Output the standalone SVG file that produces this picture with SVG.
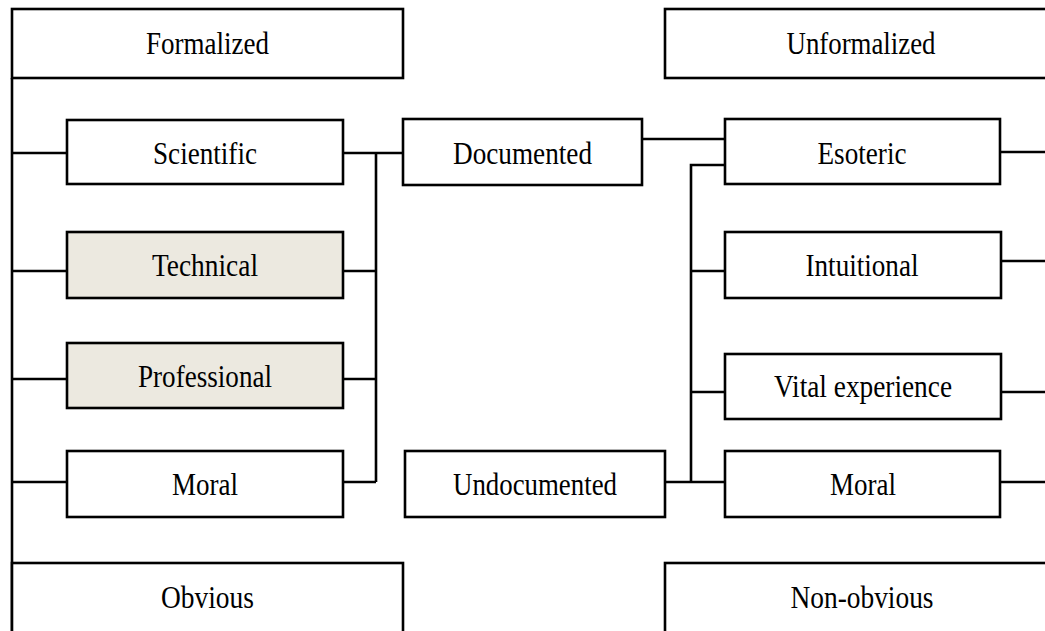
<svg xmlns="http://www.w3.org/2000/svg" width="1045" height="631" viewBox="0 0 1045 631">
<style>
.box{fill:#ffffff;stroke:#000;stroke-width:2.6}
.shade{fill:#ECE9E0;stroke:#000;stroke-width:2.6}
.lbl{font-family:"Liberation Serif","Times New Roman",serif;font-size:31px;fill:#000;text-anchor:middle}
.c{fill:none;stroke:#000;stroke-width:2.6}
</style>
<rect width="1045" height="631" fill="#ffffff"/>
<g id="connectors">
<path class="c" d="M12,78 V631"/>
<path class="c" d="M12,153 H67 M12,271 H67 M12,379 H67 M12,482 H67"/>
<path class="c" d="M343,153 H403 M343,271 H376 M343,379 H376 M343,482 H376 M376,153 V482"/>
<path class="c" d="M642,139 H725"/>
<path class="c" d="M727,165 H691 V482 M691,271 H725 M691,392 H725 M665,482 H725"/>
<path class="c" d="M1000,152 H1045 M1001,261 H1045 M1001,392 H1045 M1000,482 H1045"/>
</g>
<g id="formalized"><rect class="box" x="12" y="9" width="391" height="69"/><text class="lbl" x="207.5" y="54" textLength="123" lengthAdjust="spacingAndGlyphs">Formalized</text></g>
<g id="unformalized"><rect class="box" x="665" y="9" width="400" height="69"/><text class="lbl" x="861" y="54" textLength="149" lengthAdjust="spacingAndGlyphs">Unformalized</text></g>
<g id="scientific"><rect class="box" x="67" y="120" width="276" height="64"/><text class="lbl" x="205" y="164" textLength="104" lengthAdjust="spacingAndGlyphs">Scientific</text></g>
<g id="documented"><rect class="box" x="403" y="119" width="239" height="66"/><text class="lbl" x="522.5" y="164" textLength="139" lengthAdjust="spacingAndGlyphs">Documented</text></g>
<g id="esoteric"><rect class="box" x="725" y="119" width="275" height="65"/><text class="lbl" x="862" y="164" textLength="89" lengthAdjust="spacingAndGlyphs">Esoteric</text></g>
<g id="technical"><rect class="shade" x="67" y="232" width="276" height="66"/><text class="lbl" x="205" y="276" textLength="106" lengthAdjust="spacingAndGlyphs">Technical</text></g>
<g id="intuitional"><rect class="box" x="725" y="232" width="276" height="66"/><text class="lbl" x="862" y="276" textLength="113" lengthAdjust="spacingAndGlyphs">Intuitional</text></g>
<g id="professional"><rect class="shade" x="67" y="343" width="276" height="65"/><text class="lbl" x="205" y="387" textLength="134" lengthAdjust="spacingAndGlyphs">Professional</text></g>
<g id="vital"><rect class="box" x="725" y="354" width="276" height="65"/><text class="lbl" x="863" y="397" textLength="178" lengthAdjust="spacingAndGlyphs">Vital experience</text></g>
<g id="moral-left"><rect class="box" x="67" y="451" width="276" height="66"/><text class="lbl" x="205" y="495" textLength="66" lengthAdjust="spacingAndGlyphs">Moral</text></g>
<g id="undocumented"><rect class="box" x="405" y="451" width="260" height="66"/><text class="lbl" x="535" y="495" textLength="164" lengthAdjust="spacingAndGlyphs">Undocumented</text></g>
<g id="moral-right"><rect class="box" x="725" y="451" width="275" height="66"/><text class="lbl" x="863" y="495" textLength="66" lengthAdjust="spacingAndGlyphs">Moral</text></g>
<g id="obvious"><rect class="box" x="12" y="563" width="391" height="90"/><text class="lbl" x="207.5" y="608" textLength="93" lengthAdjust="spacingAndGlyphs">Obvious</text></g>
<g id="non-obvious"><rect class="box" x="665" y="563" width="400" height="90"/><text class="lbl" x="862" y="608" textLength="143" lengthAdjust="spacingAndGlyphs">Non-obvious</text></g>
</svg>
